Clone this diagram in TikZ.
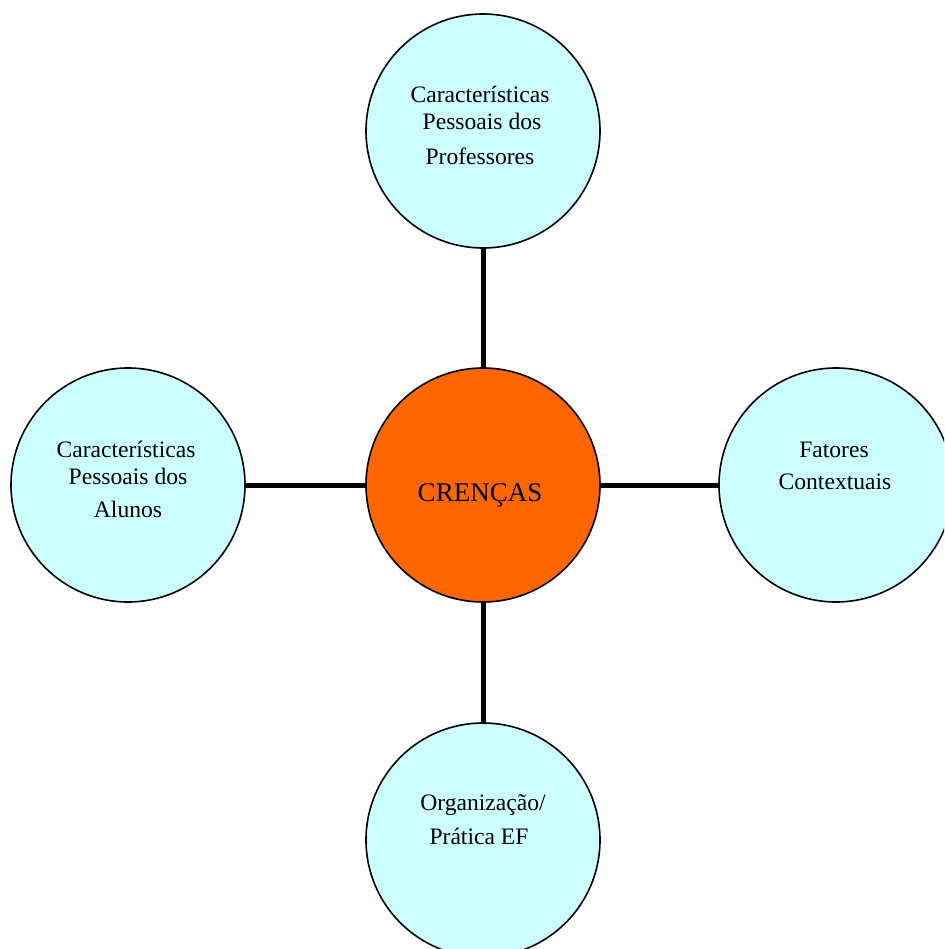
\documentclass[tikz,border=0pt]{standalone}
\usepackage{fontspec}
\setmainfont{Liberation Serif}
\definecolor{lightcyan}{HTML}{CCFFFF}
\definecolor{crorange}{HTML}{FF6600}
\tikzset{
  bubble/.style={circle, draw=black, line width=1.6pt, fill=lightcyan, minimum size=234pt, inner sep=0pt},
  core/.style={bubble, fill=crorange},
  conn/.style={line width=5pt, black},
  txt/.style={anchor=base, inner sep=0pt, font=\fontsize{23.6}{28}\selectfont},
  bigtxt/.style={anchor=base, inner sep=0pt, font=\fontsize{27}{32}\selectfont}
}
\begin{document}
\begin{tikzpicture}[x=1pt,y=-1pt]
\useasboundingbox (0,0) rectangle (944,949);
\clip (0,0) rectangle (944,949);
\fill[white] (0,0) rectangle (944,949);
\node[bubble] (top) at (483,131) {};
\node[core] (center) at (483,485) {};
\node[bubble] (left) at (128,485) {};
\node[bubble] (right) at (836,485) {};
\node[bubble] (bottom) at (483,840) {};
\draw[conn] (top) -- (center);
\draw[conn] (center) -- (bottom);
\draw[conn] (left) -- (center);
\draw[conn] (center) -- (right);
\node[txt] (t1) at (480,103) {Características};
\node[txt] (t2) at (482,130) {Pessoais dos};
\node[txt] (t3) at (480,165) {Professores};
\node[txt] (l1) at (126,457) {Características};
\node[txt] (l2) at (128,484) {Pessoais dos};
\node[txt] (l3) at (128,517) {Alunos};
\node[txt] (r1) at (834,457) {Fatores};
\node[txt] (r2) at (835,489) {Contextuais};
\node[txt] (b1) at (483,810) {Organização/};
\node[txt] (b2) at (479,844) {Prática EF};
\node[bigtxt] (c1) at (480,501) {CRENÇAS};
\end{tikzpicture}
\end{document}
